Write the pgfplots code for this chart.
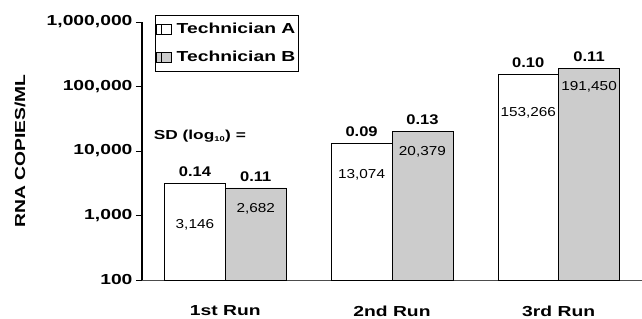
\documentclass[border=0pt]{standalone}
\usepackage{pgfplots}
\pgfplotsset{compat=1.18}
\usepackage{fontspec}
\setmainfont{Liberation Sans}
\newfontfamily\widef[FakeStretch=1.33]{Liberation Sans}
\newfontfamily\midf[FakeStretch=1.18]{Liberation Sans}
\definecolor{barB}{RGB}{204,204,204}
\begin{document}
\begin{tikzpicture}
\useasboundingbox (-142bp,-39bp) rectangle (500bp,280bp);
\begin{axis}[
  scale only axis,
  width=500bp, height=258bp,
  ymode=log, log origin=infty,
  ymin=100, ymax=1000000,
  xmin=-0.5, xmax=2.5,
  axis lines=left,
  axis line style={-},
  x axis line style={black!70, line width=0.6pt},
  y axis line style={black, line width=1.3pt},
  ytick={100,1000,10000,100000,1000000},
  yticklabels={100,{1,000},{10,000},{100,000},{1,000,000}},
  yminorticks=false,
  ytick style={black, line width=0.8pt},
  tick align=outside,
  major tick length=6bp,
  xtick={0,1,2},
  xticklabels={1st Run,2nd Run,3rd Run},
  xtick style={draw=none},
  extra x ticks={0.5,1.5},
  extra x tick labels={},
  extra x tick style={tick style={draw=black, line width=0.5pt}, major tick length=6bp},
  tick label style={font=\fontsize{14.5bp}{16bp}\widef\bfseries},
  xticklabel style={yshift=-16bp},
  bar width=0.365,
  clip=false,
  legend style={at={(rel axis cs:0.026,1.027)}, anchor=north west, draw=black, line width=0.5pt,
     font=\fontsize{14.5bp}{17bp}\widef\bfseries, inner xsep=1bp, inner ysep=6bp, row sep=12bp},
  legend cell align=left,
  legend image code/.code={\path (0bp,-5bp) rectangle (15bp,5bp); \draw[#1, line width=0.5pt] (5bp,-5bp) rectangle (15bp,5bp);},
]
\addplot[ybar, bar shift=-0.1825, fill=white, draw=black, line width=0.5pt] coordinates {(0,3146) (1,13074) (2,153266)};
\addlegendentry{\hspace{3bp}Technician A}
\addplot[ybar, bar shift=0.1825, fill=barB, draw=black, line width=0.5pt] coordinates {(0,2682) (1,20379) (2,191450)};
\addlegendentry{\hspace{3bp}Technician B}

% SD labels
\tikzset{sd/.style={anchor=south, yshift=3bp, font=\fontsize{14bp}{16bp}\midf\bfseries}}
\node[sd] at (axis cs:-0.1825,3146) {0.14};
\node[sd] at (axis cs:0.1825,2682) {0.11};
\node[sd] at (axis cs:0.8175,13074) {0.09};
\node[sd] at (axis cs:1.1825,20379) {0.13};
\node[sd] at (axis cs:1.8175,153266) {0.10};
\node[sd] at (axis cs:2.1825,191450) {0.11};

% values in bars
\tikzset{vl/.style={font=\fontsize{13bp}{15bp}\midf}}
\node[vl] at (axis cs:-0.1825,713) {3,146};
\node[vl] at (axis cs:0.1825,1260) {2,682};
\node[vl] at (axis cs:0.8175,4250) {13,074};
\node[vl] at (axis cs:1.1825,9640) {20,379};
\node[vl] at (axis cs:1.8175,38800) {153,266};
\node[vl] at (axis cs:2.1825,98200) {191,450};

\node[anchor=west, font=\fontsize{13bp}{15bp}\widef\bfseries] at (axis cs:-0.45,17000) {SD (log\textsubscript{\fontsize{7bp}{8bp}\selectfont 10}) =};
\node[rotate=90, font=\fontsize{14.5bp}{16bp}\widef\bfseries] at ([xshift=-122bp]axis description cs:0,0.5) {RNA COPIES/ML};
\end{axis}
\end{tikzpicture}
\end{document}
